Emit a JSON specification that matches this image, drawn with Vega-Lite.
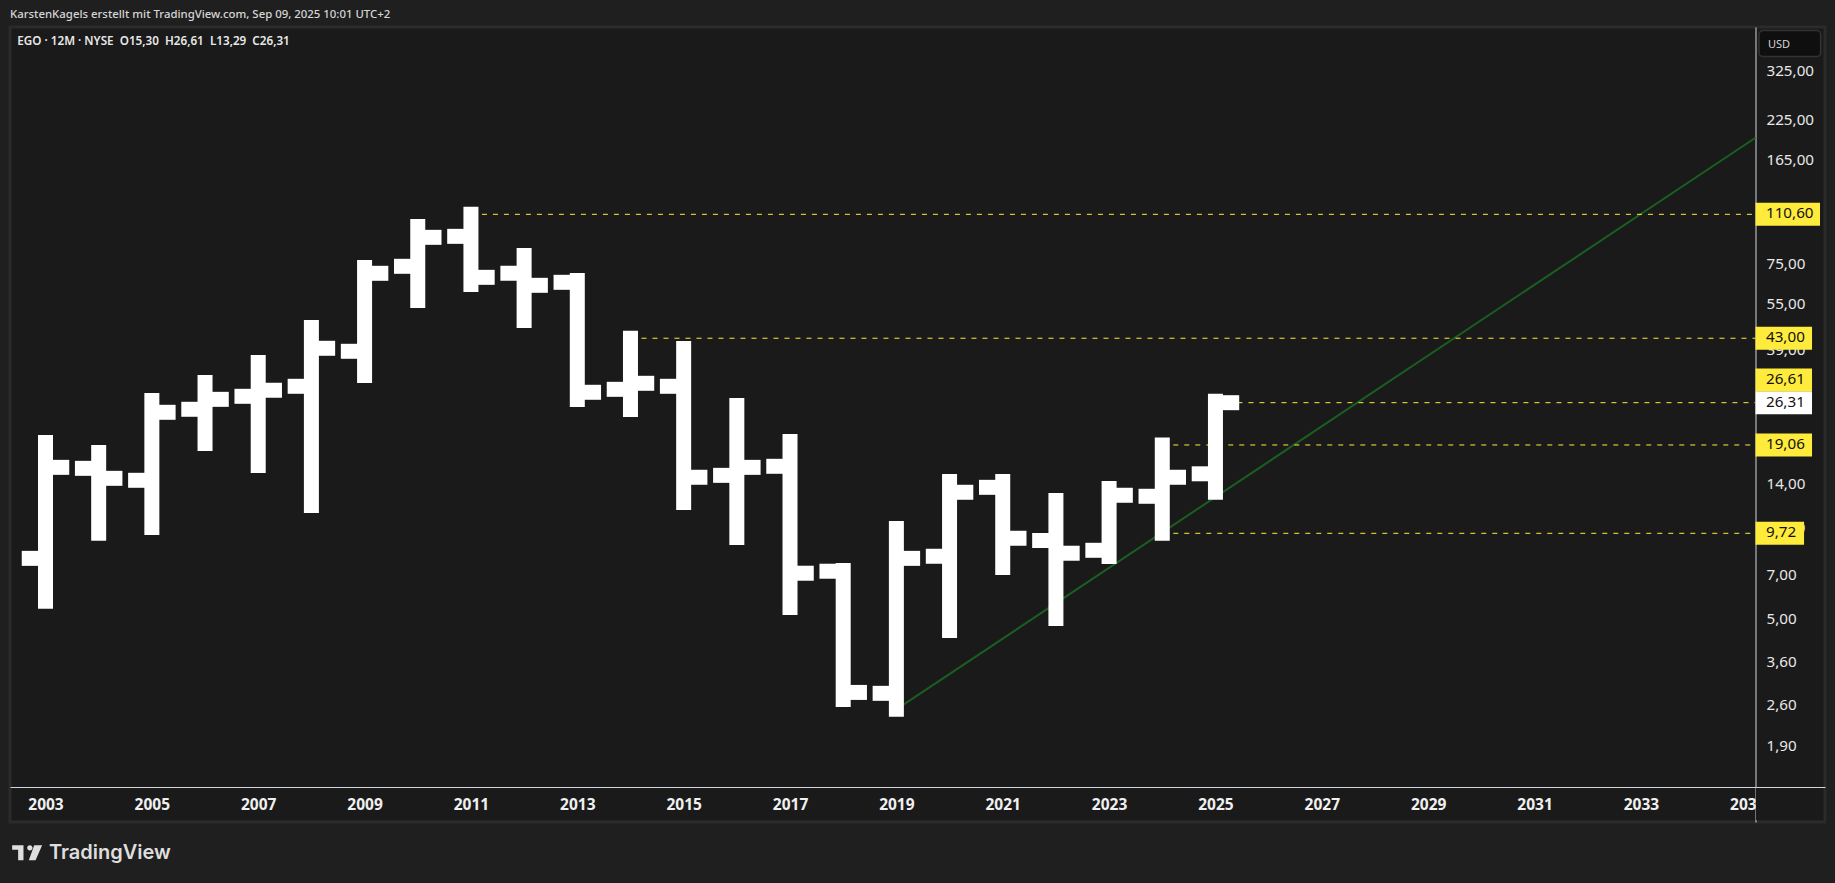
{
  "$schema": "https://vega.github.io/schema/vega-lite/v6.json",
  "autosize": "none",
  "width": 1815,
  "height": 795,
  "padding": {"left": 10, "top": 27, "right": 10, "bottom": 61},
  "background": "#1f1f1f",
  "view": {"fill": "#1a1a1a", "stroke": "#2b2b2b", "strokeWidth": 3},
  "title": {
    "text": "KarstenKagels erstellt mit TradingView.com, Sep 09, 2025 10:01 UTC+2",
    "anchor": "start",
    "frame": "group",
    "offset": 7,
    "font": "Noto Sans",
    "fontSize": 11.4,
    "fontWeight": 500,
    "color": "#d6d6d6"
  },
  "datasets": {
    "bars": [
      {"year": 2003, "open": 8.03, "high": 19.42, "low": 5.79, "close": 16.07},
      {"year": 2004, "open": 15.95, "high": 18.0, "low": 9.72, "close": 14.78},
      {"year": 2005, "open": 14.56, "high": 26.75, "low": 10.16, "close": 24.45},
      {"year": 2006, "open": 25.02, "high": 30.69, "low": 19.28, "close": 26.99},
      {"year": 2007, "open": 27.62, "high": 35.73, "low": 16.3, "close": 28.91},
      {"year": 2008, "open": 29.81, "high": 46.66, "low": 12.01, "close": 39.83},
      {"year": 2009, "open": 38.93, "high": 73.72, "low": 32.37, "close": 70.54},
      {"year": 2010, "open": 74.41, "high": 100.8, "low": 57.32, "close": 92.8},
      {"year": 2011, "open": 93.5, "high": 110.6, "low": 64.76, "close": 68.41},
      {"year": 2012, "open": 70.54, "high": 80.79, "low": 49.22, "close": 64.37},
      {"year": 2013, "open": 65.86, "high": 66.77, "low": 26.95, "close": 28.48},
      {"year": 2014, "open": 29.13, "high": 43.0, "low": 24.97, "close": 30.5},
      {"year": 2015, "open": 29.81, "high": 39.77, "low": 12.29, "close": 14.9},
      {"year": 2016, "open": 15.12, "high": 25.75, "low": 9.41, "close": 16.07},
      {"year": 2017, "open": 16.2, "high": 19.57, "low": 5.52, "close": 7.17},
      {"year": 2018, "open": 7.28, "high": 7.32, "low": 2.74, "close": 2.89},
      {"year": 2019, "open": 2.87, "high": 10.08, "low": 2.54, "close": 8.03},
      {"year": 2020, "open": 8.16, "high": 14.43, "low": 4.63, "close": 13.29},
      {"year": 2021, "open": 13.8, "high": 14.43, "low": 7.49, "close": 9.36},
      {"year": 2022, "open": 9.21, "high": 12.48, "low": 5.08, "close": 8.35},
      {"year": 2023, "open": 8.54, "high": 13.68, "low": 8.14, "close": 12.99},
      {"year": 2024, "open": 12.89, "high": 19.06, "low": 9.72, "close": 14.9},
      {"year": 2025, "open": 15.3, "high": 26.61, "low": 13.29, "close": 26.31}
    ],
    "levels": [
      {"from": 2011, "to": 2035.155, "price": 110.6},
      {"from": 2014, "to": 2035.155, "price": 43.0},
      {"from": 2025, "to": 2035.155, "price": 26.31},
      {"from": 2024, "to": 2035.155, "price": 19.06},
      {"from": 2024, "to": 2035.155, "price": 9.72}
    ],
    "trend": [
      {"year": 2019, "price": 2.54},
      {"year": 2035.155, "price": 198.3}
    ],
    "tags": [
      {"label": "110,60", "price": 110.6, "start": 2035.155, "end": 2036.368, "fill": "#ffeb3b"},
      {"label": "43,00", "price": 43.0, "start": 2035.155, "end": 2036.218, "fill": "#ffeb3b"},
      {"label": "26,31", "price": 26.31, "start": 2035.155, "end": 2036.218, "fill": "#ffffff"},
      {"label": "19,06", "price": 19.06, "start": 2035.155, "end": 2036.218, "fill": "#ffeb3b"},
      {"label": "9,72", "price": 9.72, "start": 2035.155, "end": 2036.068, "fill": "#ffeb3b"}
    ],
    "highTag": [
      {"label": "26,61", "price": 26.61, "start": 2035.155, "end": 2036.218, "fill": "#ffeb3b"}
    ]
  },
  "encoding": {
    "x": {
      "field": "year",
      "type": "quantitative",
      "scale": {"domain": [2002.3325, 2036.4619], "nice": false, "zero": false},
      "axis": {
        "orient": "bottom",
        "offset": -35,
        "title": null,
        "grid": false,
        "ticks": false,
        "format": "d",
        "values": [2003, 2005, 2007, 2009, 2011, 2013, 2015, 2017, 2019, 2021, 2023, 2025, 2027, 2029, 2031, 2033, 2035],
        "labelFont": "Noto Sans",
        "labelFontSize": 15.5,
        "labelFontWeight": 700,
        "labelColor": "#f0f0f0",
        "labelPadding": 10,
        "labelOverlap": false,
        "labelBound": false,
        "labelFlush": false,
        "domainColor": "#d1d4dc",
        "domainWidth": 1
      }
    },
    "y": {
      "field": "price",
      "type": "quantitative",
      "scale": {"type": "log", "domain": [1.0762, 461.2], "nice": false, "zero": false},
      "axis": {
        "orient": "right",
        "offset": -69.5,
        "title": null,
        "grid": false,
        "ticks": false,
        "values": [1.9, 2.6, 3.6, 5, 7, 10, 14, 19, 27, 39, 55, 75, 115, 165, 225, 325],
        "labelExpr": "replace(format(datum.value, '.2f'), '.', ',')",
        "labelFont": "Noto Sans",
        "labelFontSize": 15.2,
        "labelColor": "#e8e8e8",
        "labelPadding": 10.5,
        "labelOffset": -2,
        "labelOverlap": false,
        "labelBound": false,
        "labelFlush": false,
        "domainColor": "#d1d4dc",
        "domainWidth": 1
      }
    }
  },
  "layer": [
    {
      "data": {"name": "trend"},
      "mark": {"type": "line", "color": "#1b5e20", "strokeWidth": 2},
      "encoding": {}
    },
    {
      "data": {"name": "levels"},
      "mark": {"type": "rule", "color": "#ffeb3b", "strokeWidth": 1, "strokeDash": [5, 6]},
      "encoding": {
        "x": {"field": "from", "type": "quantitative"},
        "x2": {"field": "to"}
      }
    },
    {
      "data": {"name": "bars"},
      "mark": {"type": "rule", "color": "#ffffff", "opacity": 1, "strokeWidth": 15, "strokeCap": "square"},
      "encoding": {
        "y": {"field": "high", "type": "quantitative"},
        "y2": {"field": "low"}
      }
    },
    {
      "data": {"name": "bars"},
      "mark": {"type": "tick", "orient": "horizontal", "color": "#ffffff", "opacity": 1, "size": 24, "thickness": 15, "xOffset": -11.75},
      "encoding": {"y": {"field": "open", "type": "quantitative"}}
    },
    {
      "data": {"name": "bars"},
      "mark": {"type": "tick", "orient": "horizontal", "color": "#ffffff", "opacity": 1, "size": 24, "thickness": 15, "xOffset": 11.75},
      "encoding": {"y": {"field": "close", "type": "quantitative"}}
    },
    {
      "data": {"values": [{"x0": 2035.164, "x1": 2035.8, "y0": 1.3946, "y1": 1.0926}]},
      "mark": {"type": "rect", "color": "#1a1a1a"},
      "encoding": {
        "x": {"field": "x0", "type": "quantitative"},
        "x2": {"field": "x1"},
        "y": {"field": "y0", "type": "quantitative"},
        "y2": {"field": "y1"}
      }
    },
    {
      "data": {"name": "tags"},
      "mark": {"type": "rule", "strokeWidth": 23, "opacity": 1},
      "encoding": {
        "x": {"field": "start", "type": "quantitative"},
        "x2": {"field": "end"},
        "color": {"field": "fill", "type": "nominal", "scale": null}
      }
    },
    {
      "data": {"name": "highTag"},
      "mark": {"type": "rule", "strokeWidth": 23, "opacity": 1, "yOffset": -21.3},
      "encoding": {
        "x": {"field": "start", "type": "quantitative"},
        "x2": {"field": "end"},
        "color": {"field": "fill", "type": "nominal", "scale": null}
      }
    },
    {
      "data": {"name": "tags"},
      "mark": {"type": "text", "font": "Noto Sans", "fontSize": 15.2, "align": "left", "baseline": "middle", "dx": 10.5, "dy": -1, "color": "#111111"},
      "encoding": {
        "x": {"field": "start", "type": "quantitative"},
        "text": {"field": "label"}
      }
    },
    {
      "data": {"name": "highTag"},
      "mark": {"type": "text", "font": "Noto Sans", "fontSize": 15.2, "align": "left", "baseline": "middle", "dx": 10.5, "dy": -1, "yOffset": -21.3, "color": "#111111"},
      "encoding": {
        "x": {"field": "start", "type": "quantitative"},
        "text": {"field": "label"}
      }
    },
    {
      "data": {"values": [{"x0": 2035.22, "x1": 2036.38, "y0": 449, "y1": 368}]},
      "mark": {"type": "rect", "color": "#0f0f0f", "stroke": "#333333", "strokeWidth": 1.5, "cornerRadius": 4},
      "encoding": {
        "x": {"field": "x0", "type": "quantitative"},
        "x2": {"field": "x1"},
        "y": {"field": "y0", "type": "quantitative"},
        "y2": {"field": "y1"}
      }
    },
    {
      "data": {"values": [{"year": 2035.39, "price": 404, "label": "USD"}]},
      "mark": {"type": "text", "font": "Noto Sans", "fontSize": 11, "align": "left", "baseline": "middle", "dy": 1, "color": "#d6d6d6"},
      "encoding": {"text": {"field": "label"}}
    },
    {
      "data": {"values": [{"year": 2002.47, "price": 413, "label": "EGO · 12M · NYSE\u00a0\u00a0O15,30\u00a0\u00a0H26,61\u00a0\u00a0L13,29\u00a0\u00a0C26,31"}]},
      "mark": {"type": "text", "font": "Noto Sans", "fontSize": 11.7, "fontWeight": 600, "align": "left", "baseline": "middle", "color": "#e8e8e8"},
      "encoding": {"text": {"field": "label"}}
    },
    {
      "data": {"values": [{"year": 2003.066, "price": 0.85, "label": "TradingView"}]},
      "mark": {"type": "text", "font": "Inter", "fontSize": 20, "fontWeight": 600, "align": "left", "baseline": "middle", "color": "#dedede"},
      "encoding": {"text": {"field": "label"}}
    },
    {
      "data": {"values": [{"year": 2002.655, "price": 0.852}]},
      "mark": {
        "type": "point",
        "filled": true,
        "opacity": 1,
        "color": "#dedede",
        "size": 900,
        "shape": "M-1 -.5H-.244V.5H-.6V-.19H-1ZM.47 -.5H1L.56 .5H.11ZM0 -.32A.18 .18 0 1 1 .36 -.32A.18 .18 0 1 1 0 -.32Z"
      },
      "encoding": {}
    }
  ]
}
